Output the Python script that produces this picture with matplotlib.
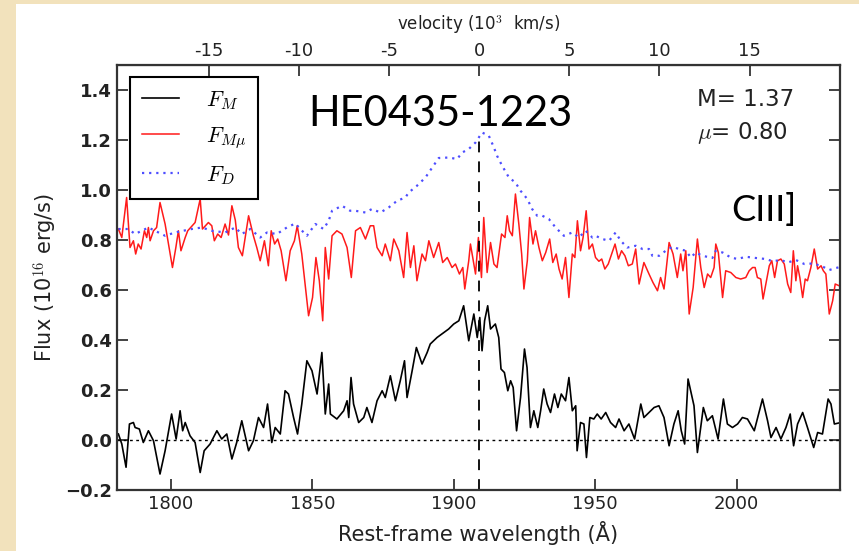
import matplotlib
matplotlib.use("Agg")
import matplotlib.pyplot as plt
from matplotlib.patches import Rectangle

# F_M  (black)
wl_m = [1781.5, 1782.7, 1784.2, 1785.4, 1786.8, 1787.4, 1788.9, 1790.3, 1792.1, 1793.9,
        1796.2, 1798.0, 1800.3, 1801.9, 1803.3, 1804.2, 1805.1, 1806.8, 1808.6, 1810.4,
        1811.8, 1813.9, 1816.3, 1818.0, 1819.8, 1821.6, 1823.3, 1825.1, 1827.5, 1829.2,
        1831.0, 1832.8, 1834.2, 1835.7, 1836.9, 1838.7, 1840.4, 1841.6, 1843.4, 1844.8,
        1846.3, 1848.1, 1849.9, 1851.7, 1853.4, 1854.6, 1855.8, 1856.4, 1858.7, 1861.1,
        1862.3, 1862.9, 1863.7, 1864.6, 1866.4, 1868.2, 1869.3, 1871.1, 1872.9, 1874.7,
        1875.8, 1877.6, 1879.4, 1881.1, 1882.6, 1883.5, 1885.3, 1886.8, 1888.8, 1890.6,
        1891.7, 1894.1, 1896.5, 1898.2, 1900.0, 1901.8, 1903.5, 1905.3, 1907.1, 1908.3,
        1909.2, 1910.0, 1910.9, 1912.0, 1913.0, 1914.7, 1915.9, 1916.7, 1917.9, 1919.1,
        1920.1, 1921.0, 1922.2, 1923.6, 1925.0, 1925.9, 1927.1, 1928.3, 1929.7, 1930.7,
        1931.8, 1933.0, 1934.2, 1935.6, 1936.8, 1938.0, 1939.5, 1940.7, 1941.9, 1943.1,
        1943.6, 1944.8, 1946.0, 1946.9, 1948.1, 1949.5, 1950.7, 1952.1, 1953.7, 1955.4,
        1957.2, 1958.4, 1960.2, 1961.9, 1963.9, 1966.1, 1967.2, 1969.0, 1970.8, 1972.5,
        1974.3, 1976.1, 1977.8, 1979.3, 1980.4, 1981.6, 1982.8, 1984.9, 1986.1, 1988.2,
        1989.6, 1991.4, 1993.4, 1995.3, 1996.7, 1998.5, 2000.3, 2002.0, 2003.8, 2006.2,
        2009.1, 2010.9, 2012.1, 2013.9, 2015.6, 2017.4, 2018.9, 2020.1, 2021.5, 2023.3,
        2025.0, 2027.2, 2028.6, 2030.3, 2032.3, 2033.3, 2034.5, 2036.8]
flux_m = [0.024, -0.016, -0.109, 0.064, 0.070, 0.050, 0.044, -0.010, 0.037, -0.003,
          -0.136, -0.043, 0.104, 0.004, 0.117, 0.037, 0.070, 0.017, -0.010, -0.130,
          -0.043, -0.016, 0.037, 0.004, 0.024, -0.076, -0.010, 0.077, -0.043, -0.003,
          0.090, 0.050, 0.144, -0.010, 0.050, 0.024, 0.197, 0.184, 0.090, 0.024,
          0.144, 0.317, 0.277, 0.184, 0.350, 0.104, 0.224, 0.104, 0.084, 0.117,
          0.157, 0.090, 0.250, 0.144, 0.070, 0.090, 0.130, 0.070, 0.157, 0.197,
          0.170, 0.257, 0.157, 0.237, 0.317, 0.170, 0.277, 0.370, 0.304, 0.350,
          0.384, 0.410, 0.430, 0.444, 0.464, 0.477, 0.537, 0.397, 0.504, 0.410,
          0.490, 0.357, 0.477, 0.537, 0.444, 0.464, 0.410, 0.284, 0.270, 0.197,
          0.237, 0.210, 0.037, 0.170, 0.364, 0.290, 0.050, 0.117, 0.050, 0.117,
          0.204, 0.144, 0.110, 0.184, 0.130, 0.184, 0.157, 0.250, 0.117, 0.137,
          -0.043, 0.070, 0.064, -0.070, 0.090, 0.084, 0.104, 0.084, 0.110, 0.070,
          0.050, 0.084, 0.037, 0.064, 0.004, 0.144, 0.090, 0.110, 0.130, 0.137,
          0.090, -0.023, 0.064, 0.117, 0.037, -0.016, 0.244, 0.137, -0.050, 0.130,
          0.077, 0.097, 0.004, 0.164, 0.064, 0.050, 0.064, 0.090, 0.084, 0.037,
          0.164, 0.077, 0.010, 0.050, 0.004, 0.050, 0.104, -0.023, 0.064, 0.110,
          0.050, -0.030, 0.030, 0.024, 0.164, 0.144, 0.064, 0.070]

# F_Mmu  (red)
wl_mmu = [1781.5, 1782.7, 1784.4, 1785.6, 1786.8, 1787.6, 1788.5, 1789.5, 1790.7, 1791.5,
          1792.1, 1792.7, 1793.9, 1795.0, 1796.2, 1798.0, 1800.6, 1801.8, 1802.7, 1803.6,
          1805.1, 1806.0, 1808.6, 1810.4, 1811.2, 1813.3, 1814.5, 1815.4, 1816.6, 1817.8,
          1819.2, 1820.4, 1821.6, 1822.8, 1823.9, 1825.3, 1827.5, 1829.2, 1830.4, 1831.6,
          1833.1, 1834.5, 1835.5, 1836.7, 1837.8, 1839.0, 1840.7, 1842.2, 1843.7, 1844.7,
          1846.3, 1848.7, 1850.1, 1851.3, 1852.5, 1853.7, 1854.6, 1855.8, 1857.0, 1858.7,
          1860.5, 1862.3, 1863.8, 1865.3, 1867.0, 1868.8, 1870.5, 1871.7, 1872.9, 1874.7,
          1875.8, 1877.6, 1878.8, 1880.6, 1882.3, 1883.5, 1884.7, 1885.9, 1887.0, 1888.8,
          1890.0, 1891.2, 1892.9, 1894.7, 1896.1, 1897.7, 1899.4, 1900.6, 1902.0, 1903.2,
          1903.9, 1905.3, 1905.9, 1907.7, 1908.7, 1909.8, 1910.6, 1911.8, 1913.0, 1914.2,
          1915.3, 1916.9, 1918.1, 1918.9, 1919.7, 1920.7, 1921.8, 1923.0, 1924.0, 1924.8,
          1926.0, 1926.8, 1928.0, 1928.9, 1930.1, 1931.3, 1932.5, 1933.9, 1935.0, 1936.2,
          1937.2, 1938.3, 1939.5, 1940.7, 1941.9, 1942.8, 1943.7, 1944.8, 1945.7, 1946.8,
          1947.8, 1949.0, 1950.1, 1951.3, 1952.3, 1953.4, 1954.6, 1955.8, 1957.0, 1958.2,
          1959.3, 1960.5, 1961.7, 1963.1, 1964.3, 1965.5, 1967.2, 1969.0, 1970.4, 1972.0,
          1973.1, 1974.3, 1974.9, 1976.1, 1977.5, 1979.0, 1980.2, 1981.0, 1982.0, 1983.2,
          1984.6, 1986.1, 1987.3, 1988.5, 1989.7, 1990.8, 1992.0, 1992.6, 1993.5, 1995.0,
          1996.1, 1997.9, 1999.7, 2001.4, 2003.2, 2004.4, 2005.6, 2006.5, 2007.3, 2008.5,
          2009.3, 2010.5, 2011.5, 2012.4, 2013.4, 2014.4, 2015.6, 2016.8, 2018.0, 2019.1,
          2020.0, 2020.9, 2021.5, 2022.3, 2023.3, 2024.2, 2025.0, 2026.2, 2027.4, 2028.6,
          2029.8, 2030.6, 2031.5, 2032.7, 2033.9, 2034.8, 2036.2]
flux_mmu = [0.844, 0.810, 0.970, 0.770, 0.797, 0.744, 0.784, 0.764, 0.837, 0.810,
            0.850, 0.797, 0.837, 0.850, 0.950, 0.864, 0.690, 0.770, 0.837, 0.757,
            0.810, 0.837, 0.870, 0.964, 0.844, 0.870, 0.857, 0.797, 0.824, 0.810,
            0.864, 0.820, 0.937, 0.880, 0.770, 0.737, 0.897, 0.817, 0.770, 0.717,
            0.797, 0.697, 0.837, 0.784, 0.804, 0.757, 0.637, 0.757, 0.797, 0.857,
            0.744, 0.497, 0.570, 0.730, 0.637, 0.477, 0.770, 0.644, 0.817, 0.837,
            0.824, 0.770, 0.650, 0.837, 0.850, 0.804, 0.857, 0.857, 0.770, 0.737,
            0.784, 0.717, 0.804, 0.757, 0.650, 0.830, 0.690, 0.777, 0.637, 0.744,
            0.717, 0.797, 0.730, 0.790, 0.710, 0.730, 0.690, 0.704, 0.664, 0.690,
            0.604, 0.717, 0.784, 0.664, 0.810, 0.650, 0.890, 0.670, 0.790, 0.704,
            0.690, 0.824, 0.810, 0.897, 0.837, 0.817, 0.984, 0.864, 0.744, 0.604,
            0.717, 0.890, 0.784, 0.837, 0.770, 0.717, 0.750, 0.804, 0.710, 0.744,
            0.684, 0.644, 0.730, 0.570, 0.744, 0.730, 0.877, 0.757, 0.810, 0.917,
            0.764, 0.784, 0.730, 0.715, 0.724, 0.684, 0.704, 0.744, 0.784, 0.724,
            0.757, 0.737, 0.697, 0.704, 0.764, 0.624, 0.710, 0.664, 0.630, 0.597,
            0.650, 0.604, 0.664, 0.790, 0.744, 0.650, 0.744, 0.677, 0.757, 0.504,
            0.610, 0.804, 0.690, 0.610, 0.664, 0.650, 0.690, 0.784, 0.750, 0.570,
            0.677, 0.670, 0.650, 0.644, 0.650, 0.677, 0.690, 0.690, 0.650, 0.644,
            0.564, 0.637, 0.697, 0.717, 0.650, 0.717, 0.724, 0.704, 0.624, 0.590,
            0.757, 0.637, 0.697, 0.650, 0.570, 0.644, 0.637, 0.690, 0.764, 0.684,
            0.697, 0.677, 0.664, 0.504, 0.557, 0.624, 0.617]

# F_D  (blue)
wl_d = [1781.5, 1785.0, 1787.4, 1792.1, 1798.0, 1801.5, 1807.4, 1811.0, 1814.5, 1819.2,
        1822.8, 1825.1, 1828.1, 1831.6, 1834.0, 1837.5, 1841.0, 1844.0, 1845.8, 1848.1,
        1851.1, 1854.0, 1855.8, 1857.0, 1860.5, 1863.4, 1865.2, 1868.8, 1871.1, 1874.1,
        1877.0, 1880.0, 1882.9, 1884.1, 1887.0, 1890.0, 1892.4, 1894.7, 1898.2, 1901.2,
        1903.0, 1905.3, 1907.7, 1910.0, 1912.4, 1914.2, 1915.3, 1917.1, 1919.5, 1921.8,
        1923.6, 1926.0, 1927.7, 1929.5, 1931.3, 1933.6, 1936.0, 1938.9, 1941.9, 1944.2,
        1946.6, 1949.0, 1950.1, 1952.5, 1954.9, 1957.2, 1959.0, 1961.3, 1964.3, 1966.7,
        1969.0, 1970.2, 1972.6, 1974.9, 1977.3, 1979.6, 1982.0, 1983.8, 1985.5, 1987.9,
        1991.4, 1992.6, 1995.0, 1997.9, 2000.3, 2003.2, 2006.8, 2010.3, 2012.7, 2015.6,
        2018.0, 2020.9, 2023.9, 2026.8, 2029.8, 2032.7, 2035.1, 2036.8]
flux_d = [0.844, 0.844, 0.824, 0.850, 0.817, 0.830, 0.844, 0.850, 0.837, 0.830,
          0.850, 0.824, 0.844, 0.810, 0.830, 0.824, 0.850, 0.866, 0.844, 0.817,
          0.864, 0.844, 0.877, 0.917, 0.937, 0.917, 0.917, 0.910, 0.924, 0.910,
          0.930, 0.957, 0.970, 0.990, 1.017, 1.050, 1.090, 1.128, 1.130, 1.124,
          1.150, 1.164, 1.190, 1.230, 1.217, 1.170, 1.137, 1.097, 1.050, 1.030,
          0.997, 0.964, 0.924, 0.897, 0.897, 0.884, 0.850, 0.817, 0.830, 0.810,
          0.837, 0.810, 0.817, 0.804, 0.797, 0.830, 0.797, 0.770, 0.777, 0.764,
          0.764, 0.737, 0.737, 0.757, 0.773, 0.764, 0.757, 0.730, 0.750, 0.737,
          0.728, 0.757, 0.750, 0.730, 0.724, 0.733, 0.728, 0.724, 0.715, 0.720,
          0.710, 0.720, 0.704, 0.706, 0.697, 0.680, 0.688, 0.693]

line_center = 1909.0
c_kms = 299.792  # 10^3 km/s
x_ticks = [1800, 1850, 1900, 1950, 2000]
y_ticks = [-0.2, 0.0, 0.2, 0.4, 0.6, 0.8, 1.0, 1.2, 1.4]
v_ticks = [-15, -10, -5, 0, 5, 10, 15]

plt.rcParams["mathtext.fontset"] = "cm"
plt.rcParams["font.family"] = "DejaVu Sans"

fig = plt.figure(figsize=(8.59, 5.51), dpi=100)
fig.patch.set_facecolor("#f2e2bc")
fig.patches.append(Rectangle((16 / 859, 0), 1, 547 / 551, transform=fig.transFigure,
                             facecolor="white", edgecolor="none", zorder=-10))

ax = fig.add_axes([0.1362, 0.1107, 0.8417, 0.7713])
ax.set_zorder(1)

ax.plot(wl_m, flux_m, color="black", lw=1.2, label="$F_M$")
ax.plot(wl_mmu, flux_mmu, color="#ff1a1a", lw=1.1, label=r"$F_{M\mu}$")
ax.plot(wl_d, flux_d, color="#4d4dff", lw=1.6, ls=(0, (1, 2.2)), label="$F_D$")

ax.axhline(0.0, color="black", lw=1.0, ls=(0, (2, 2.5)))
ax.axvline(line_center, ymin=0, ymax=(1.21 + 0.2) / 1.7, color="black", lw=1.3,
           ls=(0, (6, 5)))

ax.set_xlim(1781, 2036.5)
ax.set_ylim(-0.2, 1.5)
ax.set_xticks(x_ticks)
ax.set_yticks(y_ticks)
ax.set_yticklabels([f"{t:.1f}".replace("-", "\u2212") for t in y_ticks])
ax.tick_params(direction="in", length=8, width=1.2, labelsize=13, right=True,
               colors="#222222")
for lab in ax.get_yticklabels():
    lab.set_fontweight("bold")
for s in ax.spines.values():
    s.set_linewidth(1.6)
    s.set_color("#333333")

ax.set_xlabel("Rest-frame wavelength (\u00c5)", fontsize=15, color="#222222", labelpad=6)
ax.set_ylabel("Flux (10$^{16}$ erg/s)", fontsize=15, color="#222222", labelpad=4)

sec = ax.secondary_xaxis(
    "top",
    functions=(lambda w: (w - line_center) / line_center * c_kms,
               lambda v: line_center * (1 + v / c_kms)))
sec.set_xticks(v_ticks)
sec.set_xticklabels([str(v) for v in v_ticks])
sec.tick_params(direction="in", length=8, width=1.2, labelsize=13, colors="#222222")
sec.set_xlabel("velocity (10$^3$  km/s)", fontsize=12, color="#222222", labelpad=9)
ax.tick_params(top=False)

leg = ax.legend(loc="upper left", bbox_to_anchor=(0.018, 0.972), borderaxespad=0,
                fontsize=16, fancybox=False, framealpha=1, edgecolor="black",
                handlelength=1.65, labelspacing=0.6, borderpad=0.55, handletextpad=1.2)
leg.get_frame().set_linewidth(1.5)

ax.text(0.447, 0.885, "HE0435-1223", transform=ax.transAxes, fontsize=30,
        family="Lato", ha="center", va="center")
ax.text(0.894, 0.66, "CIII]", transform=ax.transAxes, fontsize=26,
        family="Lato", ha="center", va="center")
ax.text(0.802, 0.918, "M= 1.37", transform=ax.transAxes, fontsize=16.5,
        ha="left", va="center", color="#222222")
ax.text(0.802, 0.84, r"$\mu$= 0.80", transform=ax.transAxes, fontsize=16.5,
        ha="left", va="center", color="#222222")

fig.savefig("out.png", dpi=100)
